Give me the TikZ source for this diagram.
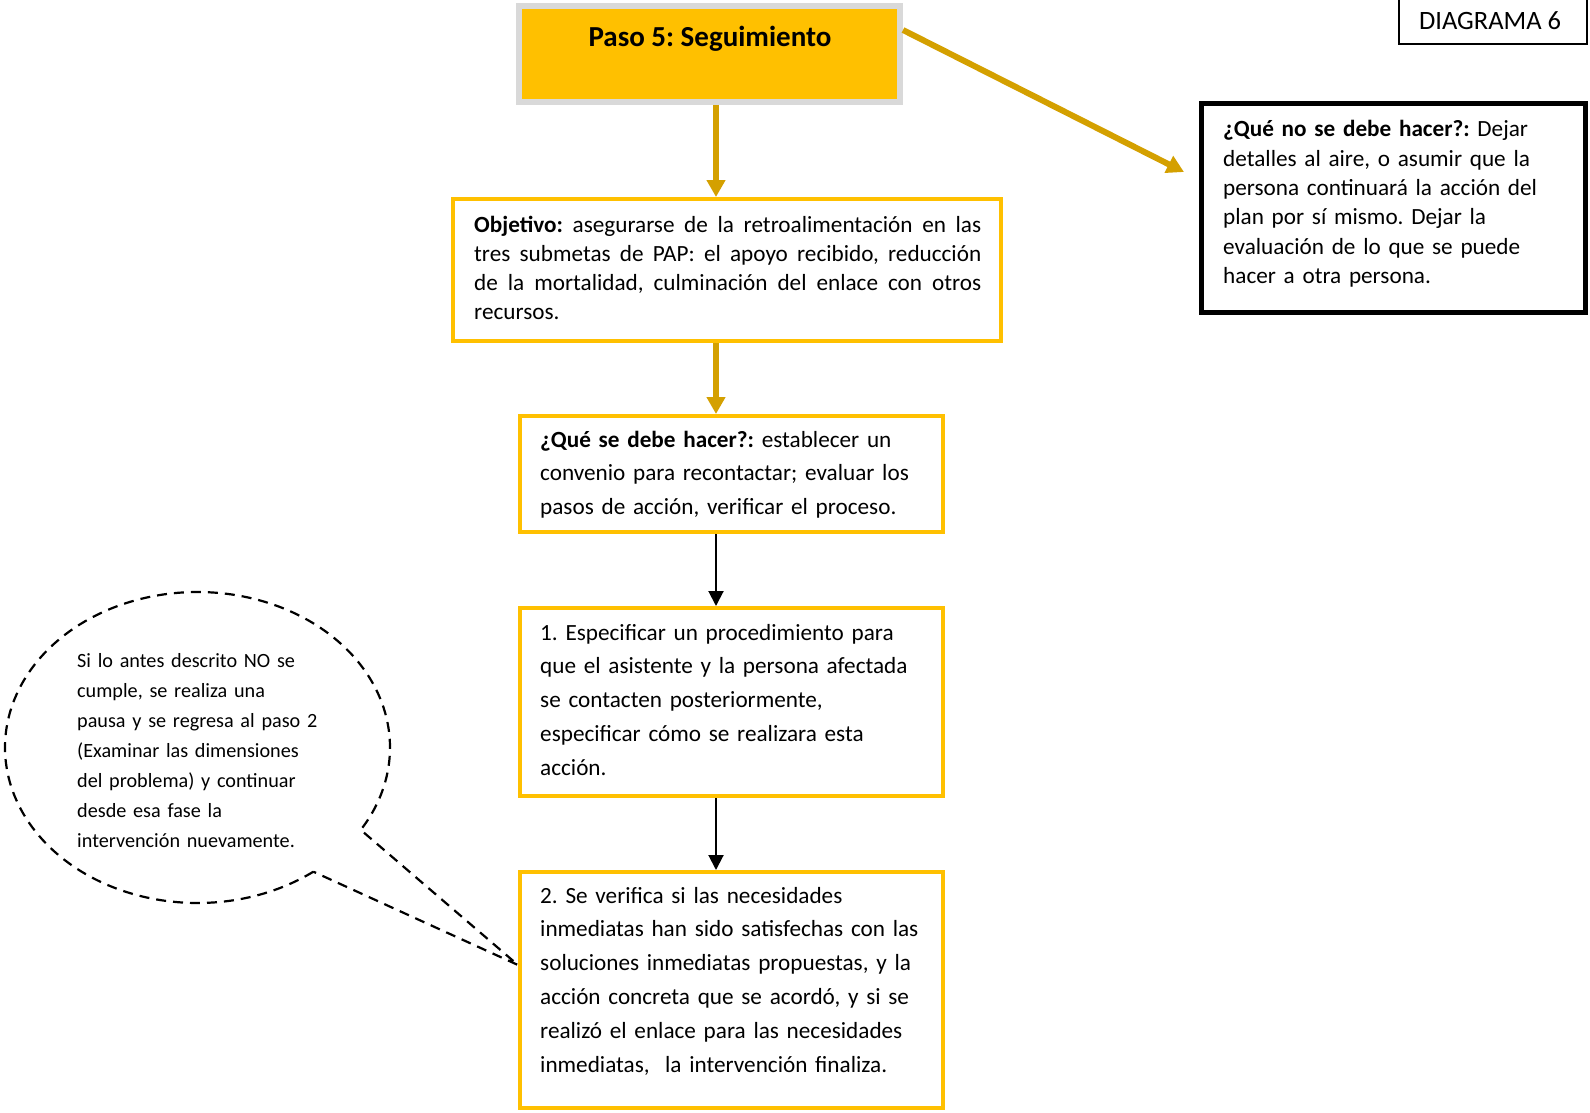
\documentclass[tikz,border=0pt]{standalone}
\usepackage{fontspec}
\setmainfont{Carlito}
\usetikzlibrary{arrows.meta}
\definecolor{ygold}{HTML}{FFC000}
\definecolor{dgold}{HTML}{D4A000}
\definecolor{lgray}{HTML}{D9D9D9}
\newcommand{\jline}[1]{\leavevmode\hbox to 507pt{\spaceskip=0.226em plus 1fil\relax #1}}
\tikzset{
  ybox/.style={draw=ygold, line width=4pt, fill=white, inner sep=0pt},
  txt/.style={inner sep=0pt, anchor=base west, align=left},
  garrow/.style={draw=dgold, line width=6pt, -{Triangle[width=18pt,length=17pt]}},
  barrow/.style={draw=black, line width=2pt, -{Triangle[width=15pt,length=15pt]}},
  bubble/.style={draw=black, line width=2.2pt, dash pattern=on 10pt off 7pt},
  bodyA/.style={font=\fontsize{23.2}{29.3}\selectfont},
  bodyB/.style={font=\fontsize{23.2}{33.8}\selectfont},
}
\begin{document}
\frenchspacing
\begin{tikzpicture}[x=1pt,y=-1pt]
\useasboundingbox (0,0) rectangle (1590,1113);
\fill[white] (0,0) rectangle (1590,1113);

% title
\node[draw=lgray, line width=6pt, fill=ygold, minimum width=381pt, minimum height=96pt, inner sep=0pt] (title) at (709.5,54) {};
\node[anchor=base, inner sep=0pt, font=\fontsize{29}{34}\selectfont] (titlet) at (710,47) {\textbf{Paso 5: Seguimiento}};

% diagram label
\node[draw=black, line width=1.5pt, minimum width=188pt, minimum height=46pt, inner sep=0pt] (diag) at (1493,21) {};
\node[anchor=base, inner sep=0pt, font=\fontsize{26.5}{30}\selectfont] (diagt) at (1490,29.5) {DIAGRAMA 6};

% boxes
\node[ybox, minimum width=548pt, minimum height=142pt] (obj) at (727,270) {};
\node[ybox, minimum width=423pt, minimum height=116pt] (que) at (731.5,474) {};
\node[ybox, minimum width=423pt, minimum height=188pt] (b1) at (731.5,702) {};
\node[ybox, minimum width=423pt, minimum height=236pt] (b2) at (731.5,990) {};
\node[draw=black, line width=5pt, fill=white, inner sep=0pt, minimum width=384pt, minimum height=209pt] (nob) at (1393.5,208) {};

% texts
\node[txt, bodyA, text width=520pt] (objt) at (474,232) {%
\jline{\textbf{Objetivo:} asegurarse de la retroalimentación en las}\\
\jline{tres submetas de PAP: el apoyo recibido, reducción}\\
\jline{de la mortalidad, culminación del enlace con otros}\\
recursos.};

\node[txt, bodyB, text width=420pt] (quet) at (540,447) {%
\textbf{¿Qué se debe hacer?:} establecer un\\
convenio para recontactar; evaluar los\\
pasos de acción, verificar el proceso.};

\node[txt, bodyB, text width=420pt] (b1t) at (540,640) {%
1. Especificar un procedimiento para\\
que el asistente y la persona afectada\\
se contacten posteriormente,\\
especificar cómo se realizara esta\\
acción.};

\node[txt, bodyB, text width=420pt] (b2t) at (540,903) {%
2. Se verifica si las necesidades\\
inmediatas han sido satisfechas con las\\
soluciones inmediatas propuestas, y la\\
acción concreta que se acordó, y si se\\
realizó el enlace para las necesidades\\
inmediatas,\ \ la intervención finaliza.};

\node[txt, bodyA, text width=360pt] (nobt) at (1223,137) {%
\textbf{¿Qué no se debe hacer?:} Dejar\\
detalles al aire, o asumir que la\\
persona continuará la acción del\\
plan por sí mismo. Dejar la\\
evaluación de lo que se puede\\
hacer a otra persona.};

\node[txt, font=\fontsize{20.2}{30.1}\selectfont, text width=300pt] (bubt) at (77,667) {%
Si lo antes descrito NO se\\
cumple, se realiza una\\
pausa y se regresa al paso 2\\
(Examinar las dimensiones\\
del problema) y continuar\\
desde esa fase la\\
intervención nuevamente.};

% connectors
\coordinate (ax) at (716,0);
\coordinate (ntip) at (1184,172);
\draw[garrow] (title.south -| ax) -- (obj.north -| ax);
\draw[garrow] (obj.south -| ax) -- (que.north -| ax);
\draw[barrow] (que.south -| ax) -- (b1.north -| ax);
\draw[barrow] (b1.south -| ax) -- (b2.north -| ax);
\draw[garrow] ([yshift=24pt]title.east) -- (ntip);

% speech bubble
\draw[bubble] plot[domain=53:392, samples=160, smooth] ({197.5+192.5*cos(\x)},{747.5+155.5*sin(\x)}) -- ([yshift=25pt]b2.west) -- cycle;
\end{tikzpicture}
\end{document}
